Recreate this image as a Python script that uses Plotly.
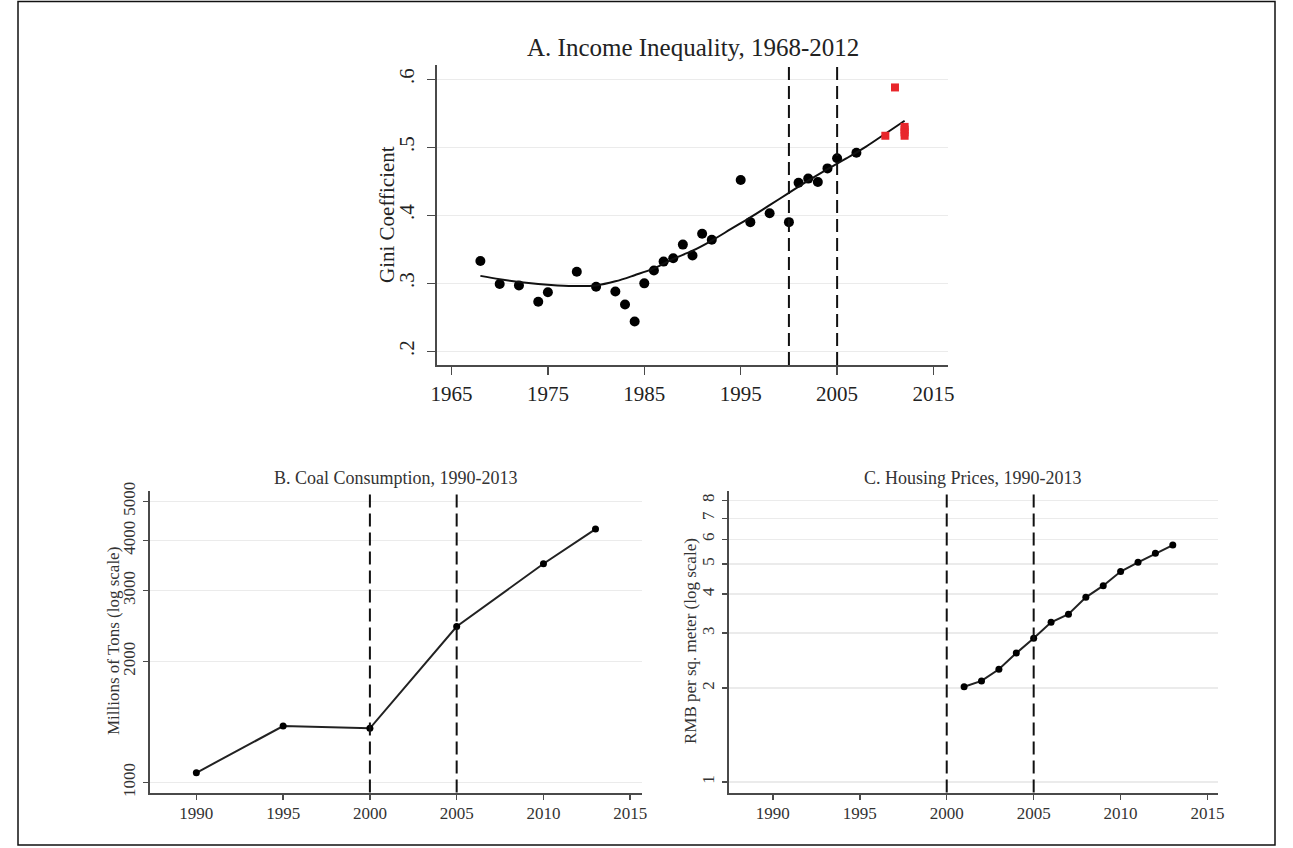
import plotly.graph_objects as go
import numpy as np

# ---------------- Data ----------------
gini_years = [1968, 1970, 1972, 1974, 1975, 1978, 1980, 1982, 1983, 1984, 1985, 1986,
              1987, 1988, 1989, 1990, 1991, 1992, 1995, 1996, 1998, 2000, 2001, 2002,
              2003, 2004, 2005, 2007]
gini_values = [0.333, 0.299, 0.297, 0.273, 0.287, 0.317, 0.295, 0.288, 0.269, 0.244, 0.300, 0.319,
               0.332, 0.337, 0.357, 0.341, 0.373, 0.364, 0.452, 0.390, 0.403, 0.390, 0.448, 0.454,
               0.449, 0.469, 0.484, 0.492]

red_years = [2010, 2011, 2012, 2012, 2012, 2012]
red_values = [0.517, 0.588, 0.530, 0.526, 0.522, 0.517]

fit_years = [1968, 1970, 1972, 1974, 1976, 1978, 1980, 1982, 1984, 1986, 1988, 1990,
             1992, 1994, 1996, 1998, 2000, 2002, 2004, 2006, 2008, 2010, 2012]
fit_values = [0.311, 0.306, 0.302, 0.299, 0.297, 0.296, 0.297, 0.303, 0.312, 0.322, 0.336, 0.348,
              0.363, 0.380, 0.397, 0.415, 0.433, 0.451, 0.468, 0.484, 0.501, 0.520, 0.539]

coal_years = [1990, 1995, 2000, 2005, 2010, 2013]
coal_values = [1057, 1381, 1363, 2442, 3499, 4266]

house_years = [2001, 2002, 2003, 2004, 2005, 2006, 2007, 2008, 2009, 2010, 2011, 2012, 2013]
house_values = [2.02, 2.11, 2.30, 2.59, 2.89, 3.25, 3.45, 3.91, 4.26, 4.73, 5.06, 5.41, 5.75]

gini_ticks = [0.2, 0.3, 0.4, 0.5, 0.6]
gini_ticktext = [".2", ".3", ".4", ".5", ".6"]
a_xticks = [1965, 1975, 1985, 1995, 2005, 2015]
bc_xticks = [1990, 1995, 2000, 2005, 2010, 2015]
coal_ticks = [1000, 2000, 3000, 4000, 5000]
house_ticks = [1, 2, 3, 4, 5, 6, 7, 8]
event_years = [2000, 2005]

titles = ["A. Income Inequality, 1968-2012", "B. Coal Consumption, 1990-2013",
          "C. Housing Prices, 1990-2013"]
ytitles = ["Gini Coefficient", "Millions of Tons (log scale)", "RMB per sq. meter (log scale)"]

# ---------------- Style ----------------
W, H = 1293, 848
FONT = "Liberation Serif"
AXC = "#4a4a4a"
TXC = "#222222"
TXC2 = "#333333"
GRID = "#ebebeb"

def px(x):
    return x / W

def py(y):
    return 1 - y / H

fig = go.Figure()

# Panel A
fig.add_trace(go.Scatter(x=gini_years, y=gini_values, mode="markers",
                         marker=dict(color="black", size=10), xaxis="x", yaxis="y",
                         showlegend=False))
fig.add_trace(go.Scatter(x=fit_years, y=fit_values, mode="lines",
                         line=dict(color="#111111", width=2, shape="spline"),
                         xaxis="x", yaxis="y", showlegend=False))
fig.add_trace(go.Scatter(x=red_years, y=red_values, mode="markers",
                         marker=dict(color="#e8262b", size=8, symbol="square"),
                         xaxis="x", yaxis="y", showlegend=False))

# Panel B
fig.add_trace(go.Scatter(x=coal_years, y=coal_values, mode="lines+markers",
                         line=dict(color="#222222", width=2),
                         marker=dict(color="black", size=7),
                         xaxis="x2", yaxis="y2", showlegend=False))
# Panel C
fig.add_trace(go.Scatter(x=house_years, y=house_values, mode="lines+markers",
                         line=dict(color="#222222", width=2),
                         marker=dict(color="black", size=7),
                         xaxis="x3", yaxis="y3", showlegend=False))

def xax(domain, rng, ticks, size, anchor, ticklen, standoff, color):
    return dict(domain=domain, range=rng, tickvals=ticks, ticktext=[str(t) for t in ticks],
                showline=True, linecolor=AXC, linewidth=2, ticks="outside", ticklen=ticklen,
                tickwidth=1.5, tickcolor=AXC, showgrid=False, zeroline=False, anchor=anchor,
                tickfont=dict(family=FONT, size=size, color=color), ticklabelstandoff=standoff,
                fixedrange=True, automargin=False)

def yax(domain, rng, ticks, text, size, anchor, ticklen, standoff, color, typ="linear"):
    return dict(domain=domain, range=rng, tickvals=ticks, ticktext=text,
                showline=True, linecolor=AXC, linewidth=2, ticks="outside", ticklen=ticklen,
                tickwidth=1.5, tickcolor=AXC, showgrid=True, gridcolor=GRID, gridwidth=1.5,
                zeroline=False, tickangle=-90, anchor=anchor, type=typ,
                tickfont=dict(family=FONT, size=size, color=color), ticklabelstandoff=standoff,
                fixedrange=True, automargin=False)

dA_x = [px(437), px(948)]
dA_y = [py(365), py(65)]
dB_x = [px(149.5), px(641.5)]
dB_y = [py(792.5), py(490.5)]
dC_x = [px(728.5), px(1218)]
dC_y = [py(792.5), py(490.5)]

fig.update_layout(
    width=W, height=H,
    margin=dict(l=0, r=0, t=0, b=0, pad=0, autoexpand=False),
    paper_bgcolor="white", plot_bgcolor="white",
    font=dict(family=FONT, color=TXC),
    hovermode=False,
    xaxis=xax(dA_x, [1963.5, 2016.5], a_xticks, 21, "y", 8, 1, TXC),
    yaxis=yax(dA_y, [0.18, 0.621], gini_ticks, gini_ticktext, 21, "x", 8, 5, TXC),
    xaxis2=xax(dB_x, [1987.3, 2015.65], bc_xticks, 17, "y2", 5, -1, TXC2),
    yaxis2=yax(dB_y, [2.975, 3.726], coal_ticks, [str(t) for t in coal_ticks], 17, "x2",
               5, 1, TXC2, typ="log"),
    xaxis3=xax(dC_x, [1987.45, 2015.6], bc_xticks, 17, "y3", 5, -1, TXC2),
    yaxis3=yax(dC_y, [np.log10(0.926), np.log10(8.6)], house_ticks,
               [str(t) for t in house_ticks], 17, "x3", 5, 1, TXC2, typ="log"),
)

shapes = []
for xa, ya in [("x", "y"), ("x2", "y2"), ("x3", "y3")]:
    for ev in event_years:
        shapes.append(dict(type="line", xref=xa, yref=ya + " domain", x0=ev, x1=ev, y0=0, y1=1,
                           line=dict(color="#111111", width=2, dash="13px,6px")))
# outer frame
shapes.append(dict(type="rect", xref="paper", yref="paper", x0=px(18), x1=px(1275),
                   y0=py(845), y1=py(1.5), line=dict(color="#111111", width=1.5)))
fig.update_layout(shapes=shapes)

annotations = [
    dict(text=titles[0], x=px(692.5), y=py(47), xref="paper", yref="paper",
         showarrow=False, font=dict(family=FONT, size=25, color=TXC), xanchor="center", yanchor="middle"),
    dict(text=titles[1], x=px(395.5), y=py(478), xref="paper", yref="paper",
         showarrow=False, font=dict(family=FONT, size=18, color=TXC2), xanchor="center", yanchor="middle"),
    dict(text=titles[2], x=px(973), y=py(478), xref="paper", yref="paper",
         showarrow=False, font=dict(family=FONT, size=18, color=TXC2), xanchor="center", yanchor="middle"),
    dict(text=ytitles[0], x=px(387), y=py(215), xref="paper", yref="paper", textangle=-90,
         showarrow=False, font=dict(family=FONT, size=21, color=TXC), xanchor="center", yanchor="middle"),
    dict(text=ytitles[1], x=px(113), y=py(641), xref="paper", yref="paper", textangle=-90,
         showarrow=False, font=dict(family=FONT, size=17, color=TXC2), xanchor="center", yanchor="middle"),
    dict(text=ytitles[2], x=px(690), y=py(641), xref="paper", yref="paper", textangle=-90,
         showarrow=False, font=dict(family=FONT, size=17, color=TXC2), xanchor="center", yanchor="middle"),
]
fig.update_layout(annotations=annotations)

fig.write_html("out.html", config={"displayModeBar": False, "staticPlot": True},
               post_script="document.body.style.margin='0';document.body.style.overflow='hidden';")
